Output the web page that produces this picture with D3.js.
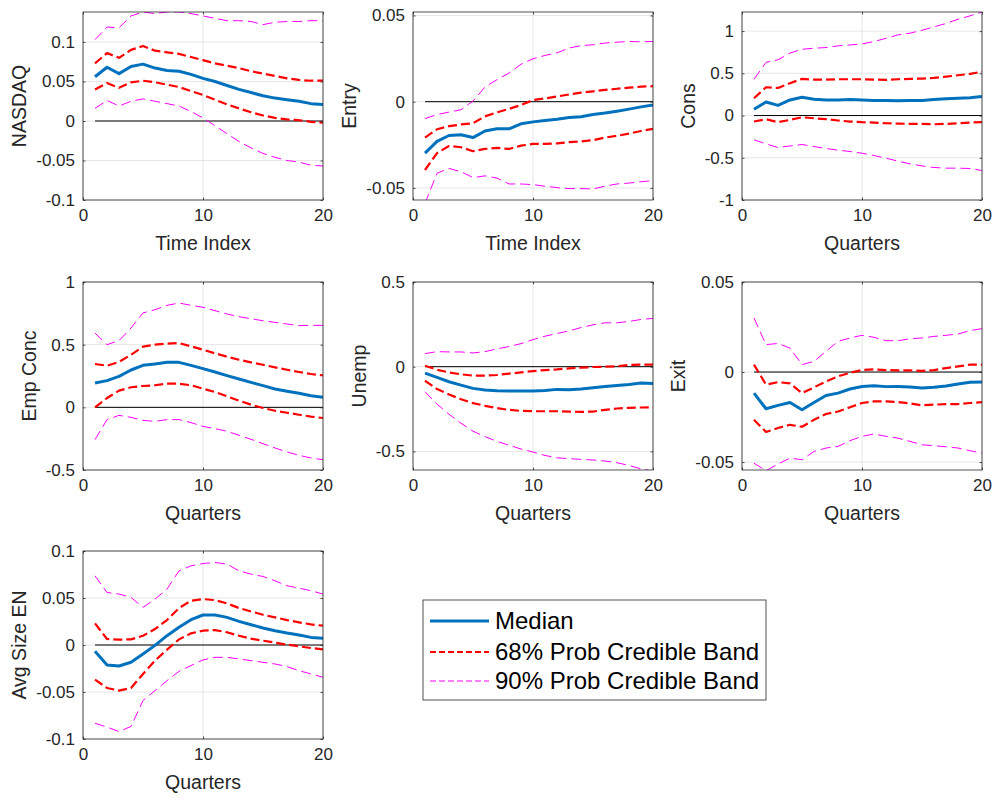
<!DOCTYPE html>
<html>
<head>
<meta charset="utf-8">
<script src="https://cdn.jsdelivr.net/npm/d3@7"></script>
<style>
  html, body { margin: 0; padding: 0; background: #fff; }
  svg { display: block; font-family: "Liberation Sans", Arial, Helvetica, sans-serif; }
</style>
</head>
<body>
<svg id="chart" width="992" height="798"></svg>
<script>
// Horizon (quarters after the shock)
const horizon = d3.range(1, 21);

// NASDAQ
const nasdaqMedian = [0.056,0.068,0.060,0.069,0.072,0.067,0.064,0.063,0.059,0.054,0.050,0.045,0.040,0.036,0.032,0.029,0.027,0.025,0.022,0.021];
const nasdaqHi68 = [0.073,0.086,0.080,0.090,0.095,0.089,0.087,0.085,0.081,0.077,0.073,0.070,0.067,0.063,0.060,0.057,0.054,0.052,0.051,0.051];
const nasdaqLo68 = [0.040,0.048,0.042,0.049,0.051,0.049,0.046,0.043,0.038,0.033,0.027,0.021,0.016,0.011,0.007,0.004,0.002,0.001,-0.001,-0.002];
const nasdaqHi90 = [0.103,0.119,0.118,0.133,0.138,0.136,0.138,0.138,0.136,0.133,0.130,0.127,0.127,0.126,0.122,0.125,0.126,0.126,0.127,0.127];
const nasdaqLo90 = [0.016,0.026,0.019,0.025,0.028,0.025,0.022,0.019,0.012,0.004,-0.006,-0.016,-0.026,-0.034,-0.041,-0.046,-0.050,-0.052,-0.056,-0.057];

// Entry
const entryMedian = [-0.0298,-0.0230,-0.0196,-0.0192,-0.0208,-0.0170,-0.0157,-0.0157,-0.0128,-0.0117,-0.0109,-0.0102,-0.0092,-0.0087,-0.0074,-0.0066,-0.0055,-0.0043,-0.0030,-0.0019];
const entryHi68 = [-0.0208,-0.0160,-0.0142,-0.0132,-0.0125,-0.0085,-0.0062,-0.0042,-0.0019,0.0009,0.0019,0.0030,0.0042,0.0053,0.0060,0.0068,0.0075,0.0081,0.0087,0.0090];
const entryLo68 = [-0.0396,-0.0298,-0.0257,-0.0264,-0.0287,-0.0274,-0.0268,-0.0274,-0.0255,-0.0245,-0.0245,-0.0242,-0.0234,-0.0230,-0.0223,-0.0208,-0.0198,-0.0185,-0.0170,-0.0157];
const entryHi90 = [-0.0098,-0.0075,-0.0060,-0.0047,0.0004,0.0085,0.0128,0.0166,0.0217,0.0249,0.0268,0.0283,0.0311,0.0325,0.0330,0.0340,0.0345,0.0349,0.0347,0.0349];
const entryLo90 = [-0.0590,-0.0415,-0.0387,-0.0406,-0.0440,-0.0430,-0.0443,-0.0477,-0.0477,-0.0481,-0.0490,-0.0498,-0.0504,-0.0504,-0.0506,-0.0490,-0.0477,-0.0472,-0.0464,-0.0458];

// Cons
const consMedian = [0.075,0.160,0.120,0.185,0.217,0.193,0.185,0.185,0.190,0.185,0.178,0.178,0.174,0.178,0.178,0.190,0.200,0.205,0.210,0.225];
const consHi68 = [0.205,0.335,0.327,0.383,0.434,0.426,0.426,0.430,0.430,0.430,0.426,0.422,0.430,0.434,0.438,0.446,0.460,0.477,0.493,0.520];
const consLo68 = [-0.071,-0.043,-0.079,-0.051,-0.020,-0.032,-0.043,-0.059,-0.071,-0.079,-0.083,-0.091,-0.095,-0.099,-0.099,-0.103,-0.099,-0.091,-0.083,-0.079];
const consHi90 = [0.430,0.630,0.660,0.740,0.785,0.797,0.805,0.825,0.836,0.848,0.876,0.915,0.955,0.975,1.010,1.050,1.090,1.140,1.180,1.226];
const consLo90 = [-0.288,-0.335,-0.379,-0.360,-0.343,-0.367,-0.390,-0.410,-0.426,-0.446,-0.473,-0.505,-0.540,-0.572,-0.596,-0.615,-0.623,-0.623,-0.627,-0.651];

// Emp Conc
const empMedian = [0.194,0.213,0.247,0.298,0.335,0.346,0.359,0.359,0.335,0.309,0.282,0.253,0.226,0.199,0.173,0.146,0.128,0.112,0.093,0.080];
const empHi68 = [0.346,0.332,0.362,0.420,0.484,0.500,0.508,0.513,0.487,0.460,0.431,0.404,0.380,0.359,0.340,0.319,0.300,0.282,0.266,0.255];
const empLo68 = [0.000,0.074,0.133,0.160,0.170,0.176,0.189,0.189,0.176,0.149,0.122,0.088,0.053,0.021,-0.005,-0.027,-0.043,-0.059,-0.074,-0.085];
const empHi90 = [0.593,0.500,0.532,0.633,0.753,0.779,0.814,0.832,0.814,0.798,0.771,0.745,0.723,0.707,0.691,0.678,0.665,0.652,0.654,0.654];
const empLo90 = [-0.258,-0.098,-0.064,-0.080,-0.104,-0.112,-0.098,-0.098,-0.122,-0.152,-0.170,-0.191,-0.223,-0.255,-0.290,-0.324,-0.356,-0.383,-0.404,-0.418];

// Unemp
const unempMedian = [-0.038,-0.063,-0.089,-0.109,-0.128,-0.138,-0.142,-0.144,-0.144,-0.144,-0.140,-0.134,-0.136,-0.132,-0.125,-0.117,-0.111,-0.105,-0.097,-0.099];
const unempHi68 = [0.006,-0.018,-0.034,-0.045,-0.053,-0.053,-0.049,-0.041,-0.034,-0.026,-0.020,-0.016,-0.010,-0.006,-0.002,0.000,0.002,0.010,0.012,0.012];
const unempLo68 = [-0.083,-0.132,-0.164,-0.192,-0.215,-0.231,-0.245,-0.255,-0.261,-0.263,-0.263,-0.263,-0.265,-0.267,-0.265,-0.255,-0.247,-0.243,-0.241,-0.239];
const unempHi90 = [0.077,0.089,0.087,0.087,0.081,0.089,0.105,0.119,0.136,0.160,0.180,0.196,0.211,0.231,0.247,0.259,0.259,0.267,0.279,0.285];
const unempLo90 = [-0.148,-0.221,-0.281,-0.334,-0.381,-0.413,-0.441,-0.464,-0.486,-0.504,-0.524,-0.538,-0.543,-0.547,-0.551,-0.557,-0.567,-0.583,-0.603,-0.617];

// Exit
const exitMedian = [-0.0117,-0.0204,-0.0185,-0.0169,-0.0209,-0.0169,-0.0130,-0.0117,-0.0094,-0.0080,-0.0076,-0.0081,-0.0080,-0.0083,-0.0089,-0.0085,-0.0078,-0.0067,-0.0057,-0.0056];
const exitHi68 = [0.0041,-0.0070,-0.0056,-0.0063,-0.0117,-0.0085,-0.0052,-0.0024,-0.0004,0.0011,0.0015,0.0011,0.0009,0.0009,0.0007,0.0011,0.0022,0.0031,0.0041,0.0041];
const exitLo68 = [-0.0265,-0.0333,-0.0311,-0.0293,-0.0304,-0.0265,-0.0233,-0.0219,-0.0196,-0.0172,-0.0163,-0.0163,-0.0167,-0.0174,-0.0185,-0.0181,-0.0178,-0.0178,-0.0172,-0.0167];
const exitHi90 = [0.0300,0.0152,0.0159,0.0133,0.0041,0.0059,0.0115,0.0170,0.0189,0.0204,0.0193,0.0174,0.0174,0.0185,0.0189,0.0198,0.0204,0.0211,0.0230,0.0241];
const exitLo90 = [-0.0506,-0.0548,-0.0511,-0.0478,-0.0487,-0.0441,-0.0422,-0.0413,-0.0381,-0.0357,-0.0344,-0.0357,-0.0367,-0.0385,-0.0404,-0.0409,-0.0415,-0.0422,-0.0437,-0.0450];

// Avg Size EN
const sizeMedian = [-0.0067,-0.0212,-0.0223,-0.0184,-0.0096,-0.0004,0.0099,0.0188,0.0269,0.0319,0.0319,0.0294,0.0251,0.0216,0.0181,0.0152,0.0127,0.0106,0.0081,0.0071];
const sizeHi68 = [0.0230,0.0064,0.0057,0.0060,0.0099,0.0170,0.0265,0.0393,0.0471,0.0488,0.0478,0.0443,0.0393,0.0357,0.0322,0.0294,0.0265,0.0241,0.0219,0.0205];
const sizeLo68 = [-0.0368,-0.0457,-0.0485,-0.0457,-0.0308,-0.0166,-0.0050,0.0060,0.0124,0.0152,0.0159,0.0135,0.0099,0.0067,0.0046,0.0025,0.0004,-0.0014,-0.0032,-0.0046];
const sizeHi90 = [0.0736,0.0559,0.0542,0.0506,0.0400,0.0488,0.0595,0.0789,0.0842,0.0867,0.0878,0.0860,0.0789,0.0754,0.0729,0.0683,0.0630,0.0605,0.0577,0.0542];
const sizeLo90 = [-0.0832,-0.0874,-0.0920,-0.0867,-0.0591,-0.0485,-0.0379,-0.0280,-0.0219,-0.0159,-0.0131,-0.0131,-0.0149,-0.0166,-0.0184,-0.0202,-0.0230,-0.0273,-0.0308,-0.0343];

// Panel titles, axis labels and y ticks
const panelNames = ["NASDAQ", "Entry", "Cons", "Emp Conc", "Unemp", "Exit", "Avg Size EN"];
const xLabels = ["Time Index", "Time Index", "Quarters", "Quarters", "Quarters", "Quarters", "Quarters"];
const xTicks = [0, 10, 20];
const yTicks = [
  [-0.1, -0.05, 0, 0.05, 0.1],
  [-0.05, 0, 0.05],
  [-1, -0.5, 0, 0.5, 1],
  [-0.5, 0, 0.5, 1],
  [-0.5, 0, 0.5],
  [-0.05, 0, 0.05],
  [-0.1, -0.05, 0, 0.05, 0.1]
];
const yDomains = [
  [-0.1, 0.138],
  [-0.057, 0.052],
  [-1, 1.226],
  [-0.5, 1],
  [-0.61, 0.5],
  [-0.0544, 0.05],
  [-0.1, 0.1]
];
const legendLabels = ["Median", "68% Prob Credible Band", "90% Prob Credible Band"];

const panelSeries = [
  [nasdaqMedian, nasdaqLo68, nasdaqHi68, nasdaqLo90, nasdaqHi90],
  [entryMedian, entryLo68, entryHi68, entryLo90, entryHi90],
  [consMedian, consLo68, consHi68, consLo90, consHi90],
  [empMedian, empLo68, empHi68, empLo90, empHi90],
  [unempMedian, unempLo68, unempHi68, unempLo90, unempHi90],
  [exitMedian, exitLo68, exitHi68, exitLo90, exitHi90],
  [sizeMedian, sizeLo68, sizeHi68, sizeLo90, sizeHi90]
];

// ---- layout and styles ----
const colLeft = [83, 413, 742];
const rowTop = [12, 282, 551];
const plotW = 240, plotH = 188;
const axisColor = "#262626";
const gridColor = "#dfdfdf";
const tickFont = 17, labelFont = 19.5, legendFont = 24;

const styles = {
  median: { stroke: "#0072BD", width: 3, dash: null },
  band68: { stroke: "#ff0000", width: 2.2, dash: "9,4" },
  band90: { stroke: "#ff00ff", width: 1, dash: "10,5" }
};

const svg = d3.select("#chart");
const fmt = v => String(+v.toFixed(4));

panelNames.forEach((name, i) => {
  const left = colLeft[i % 3];
  const top = rowTop[Math.floor(i / 3)];
  const g = svg.append("g").attr("transform", `translate(${left},${top})`);

  const x = d3.scaleLinear().domain([0, 20]).range([0, plotW]);
  const y = d3.scaleLinear().domain(yDomains[i]).range([plotH, 0]);

  // grid
  g.append("g").selectAll("line").data(xTicks).join("line")
    .attr("x1", d => x(d)).attr("x2", d => x(d))
    .attr("y1", 0).attr("y2", plotH)
    .attr("stroke", gridColor).attr("stroke-width", 0.8);
  g.append("g").selectAll("line").data(yTicks[i]).join("line")
    .attr("x1", 0).attr("x2", plotW)
    .attr("y1", d => y(d)).attr("y2", d => y(d))
    .attr("stroke", gridColor).attr("stroke-width", 0.8);

  // clip region
  const clipId = "clip" + i;
  g.append("clipPath").attr("id", clipId)
    .append("rect").attr("x", 0).attr("y", 0).attr("width", plotW).attr("height", plotH);
  const plot = g.append("g").attr("clip-path", `url(#${clipId})`);

  // zero reference line
  plot.append("line")
    .attr("x1", x(1)).attr("x2", x(20))
    .attr("y1", y(0)).attr("y2", y(0))
    .attr("stroke", "#000").attr("stroke-width", 1);

  const line = d3.line().x((d, k) => x(horizon[k])).y(d => y(d));
  const [med, lo68, hi68, lo90, hi90] = panelSeries[i];
  const drawn = [
    [lo90, styles.band90], [hi90, styles.band90],
    [lo68, styles.band68], [hi68, styles.band68],
    [med, styles.median]
  ];
  drawn.forEach(([vals, st]) => {
    plot.append("path")
      .attr("d", line(vals))
      .attr("fill", "none")
      .attr("stroke", st.stroke)
      .attr("stroke-width", st.width)
      .attr("stroke-dasharray", st.dash)
      .attr("stroke-linejoin", "round");
  });

  // axes (ticks inward, box on)
  const tickLen = 2.5;
  const xAxisB = g.append("g").attr("transform", `translate(0,${plotH})`)
    .call(d3.axisBottom(x).tickValues(xTicks).tickFormat(fmt).tickSizeInner(-tickLen).tickSizeOuter(0).tickPadding(9));
  const xAxisT = g.append("g")
    .call(d3.axisTop(x).tickValues(xTicks).tickFormat("").tickSizeInner(-tickLen).tickSizeOuter(0));
  const yAxisL = g.append("g")
    .call(d3.axisLeft(y).tickValues(yTicks[i]).tickFormat(fmt).tickSizeInner(-tickLen).tickSizeOuter(0).tickPadding(8));
  const yAxisR = g.append("g").attr("transform", `translate(${plotW},0)`)
    .call(d3.axisRight(y).tickValues(yTicks[i]).tickFormat("").tickSizeInner(-tickLen).tickSizeOuter(0));

  [xAxisB, xAxisT, yAxisL, yAxisR].forEach(a => {
    a.select(".domain").remove();
    a.selectAll(".tick line").attr("stroke", axisColor).attr("stroke-width", 0.8);
    a.selectAll("text").attr("fill", axisColor).style("font-size", tickFont + "px")
      .style("font-family", "'Liberation Sans', Arial, sans-serif");
  });

  // frame
  g.append("rect").attr("x", 0).attr("y", 0).attr("width", plotW).attr("height", plotH)
    .attr("fill", "none").attr("stroke", axisColor).attr("stroke-width", 0.8);

  // x label
  g.append("text")
    .attr("x", plotW / 2).attr("y", plotH + 50)
    .attr("text-anchor", "middle")
    .attr("fill", axisColor)
    .style("font-size", labelFont + "px")
    .text(xLabels[i]);

  // y label, placed just outside the tick labels
  const bb = yAxisL.node().getBBox();
  g.append("text")
    .attr("transform", `translate(${bb.x - 10},${plotH / 2}) rotate(-90)`)
    .attr("text-anchor", "middle")
    .attr("fill", axisColor)
    .style("font-size", labelFont + "px")
    .text(name);
});

// ---- legend ----
const legend = svg.append("g").attr("transform", "translate(423,600)");
legend.append("rect").attr("x", 0).attr("y", 0).attr("width", 343).attr("height", 100)
  .attr("fill", "#fff").attr("stroke", axisColor).attr("stroke-width", 0.8);
const legendStyles = [styles.median, styles.band68, styles.band90];
const rowY = [21, 52, 81];
legendLabels.forEach((lab, k) => {
  const st = legendStyles[k];
  legend.append("line")
    .attr("x1", 7).attr("x2", 66).attr("y1", rowY[k]).attr("y2", rowY[k])
    .attr("stroke", st.stroke).attr("stroke-width", st.width)
    .attr("stroke-dasharray", k === 0 ? null : "6,3");
  legend.append("text")
    .attr("x", 72).attr("y", rowY[k])
    .attr("dy", "0.35em")
    .attr("fill", "#000")
    .style("font-size", legendFont + "px")
    .text(lab);
});
</script>
</body>
</html>
